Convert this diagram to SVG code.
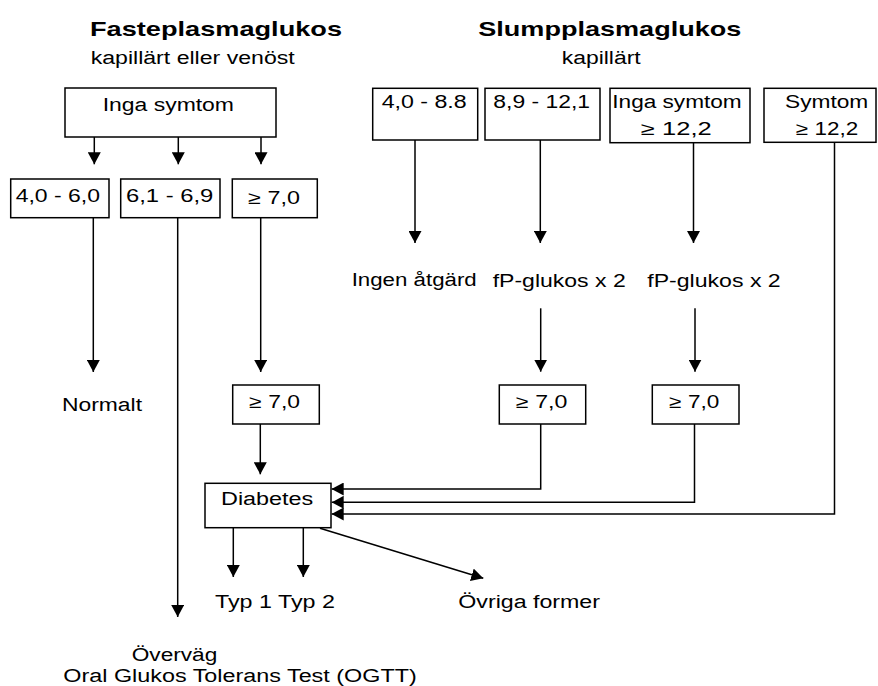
<svg xmlns="http://www.w3.org/2000/svg" width="878" height="686" viewBox="0 0 878 686">
<style>
.t{font-family:"Liberation Sans",Arial,sans-serif;font-size:18px;fill:#000}
.h{font-family:"Liberation Sans",Arial,sans-serif;font-size:21px;font-weight:bold;fill:#000}
.b{fill:#fff;stroke:#000;stroke-width:1.5}
.c{fill:none;stroke:#000;stroke-width:1.5;marker-end:url(#ah)}
</style>
<defs>
<marker id="ah" markerUnits="userSpaceOnUse" markerWidth="12" markerHeight="13" viewBox="0 0 12 13" refX="12" refY="6.5" orient="auto">
<path d="M0,0 L12,6.5 L0,13 z" fill="#000"/>
</marker>
</defs>
<rect width="878" height="686" fill="#fff"/>
<g id="headers">
<text class="h" x="90" y="35.5" textLength="252" lengthAdjust="spacingAndGlyphs">Fasteplasmaglukos</text>
<text class="t" x="90.7" y="64" textLength="204" lengthAdjust="spacingAndGlyphs">kapillärt eller venöst</text>
<text class="h" x="478.3" y="35.5" textLength="263" lengthAdjust="spacingAndGlyphs">Slumpplasmaglukos</text>
<text class="t" x="561.7" y="64" textLength="79" lengthAdjust="spacingAndGlyphs">kapillärt</text>
</g>
<g id="connectors">
<line class="c" x1="94.3" y1="137" x2="94.3" y2="164.3"/>
<line class="c" x1="178.3" y1="137" x2="178.3" y2="164.3"/>
<line class="c" x1="261" y1="137" x2="261" y2="164.3"/>
<line class="c" x1="93.3" y1="217.7" x2="93.3" y2="372"/>
<line class="c" x1="177.7" y1="217.7" x2="177.7" y2="617"/>
<line class="c" x1="260.7" y1="217.7" x2="260.7" y2="372"/>
<line class="c" x1="260.3" y1="424" x2="260.3" y2="474.3"/>
<line class="c" x1="415" y1="140" x2="415" y2="243"/>
<line class="c" x1="540.3" y1="140" x2="540.3" y2="243"/>
<line class="c" x1="693.5" y1="138" x2="693.5" y2="243"/>
<line class="c" x1="540.7" y1="308.3" x2="540.7" y2="371.7"/>
<line class="c" x1="695" y1="308.3" x2="695" y2="371.7"/>
<polyline class="c" points="540.7,424 540.7,489 331.7,489"/>
<polyline class="c" points="694.5,424 694.5,502.3 331.7,502.3"/>
<polyline class="c" points="834.5,138 834.5,514 331.7,514"/>
<line class="c" x1="233.3" y1="527.7" x2="233.3" y2="577"/>
<line class="c" x1="303.3" y1="527.7" x2="303.3" y2="577"/>
<line class="c" x1="320" y1="528.3" x2="483.3" y2="578.3"/>
</g>
<g id="n-inga-f"><rect class="b" x="65" y="88" width="211" height="49"/><text class="t" x="102.7" y="111" textLength="131.3" lengthAdjust="spacingAndGlyphs">Inga symtom</text></g>
<g id="n-40-60"><rect class="b" x="10.7" y="179" width="98.3" height="38.7"/><text class="t" x="15.7" y="201.7" textLength="84.3" lengthAdjust="spacingAndGlyphs">4,0 - 6,0</text></g>
<g id="n-61-69"><rect class="b" x="120.7" y="179" width="99.3" height="38.7"/><text class="t" x="126" y="201.7" textLength="87.3" lengthAdjust="spacingAndGlyphs">6,1 - 6,9</text></g>
<g id="n-70-a"><rect class="b" x="232.3" y="179" width="85" height="38.7"/><text class="t" x="248.3" y="203.5" textLength="51.7" lengthAdjust="spacingAndGlyphs">≥ 7,0</text></g>
<g id="n-70-b"><rect class="b" x="232.7" y="385" width="86.6" height="39"/><text class="t" x="249.3" y="408.3" textLength="50.7" lengthAdjust="spacingAndGlyphs">≥ 7,0</text></g>
<g id="n-normalt"><text class="t" x="62" y="411" textLength="80" lengthAdjust="spacingAndGlyphs">Normalt</text></g>
<g id="n-40-88"><rect class="b" x="372.7" y="88.3" width="105" height="51.7"/><text class="t" x="381.7" y="108.3" textLength="85" lengthAdjust="spacingAndGlyphs">4,0 - 8.8</text></g>
<g id="n-89-121"><rect class="b" x="485" y="88.3" width="115" height="51.7"/><text class="t" x="493.3" y="108.3" textLength="96.7" lengthAdjust="spacingAndGlyphs">8,9 - 12,1</text></g>
<g id="n-inga-s"><rect class="b" x="610" y="88.3" width="140" height="54.4"/><text class="t" x="612.3" y="108.3" textLength="129.4" lengthAdjust="spacingAndGlyphs">Inga symtom</text><text class="t" x="641" y="135" textLength="70.7" lengthAdjust="spacingAndGlyphs">≥ 12,2</text></g>
<g id="n-symtom"><rect class="b" x="764" y="88.3" width="112" height="54"/><text class="t" x="785" y="108.3" textLength="83.3" lengthAdjust="spacingAndGlyphs">Symtom</text><text class="t" x="796" y="135" textLength="62.3" lengthAdjust="spacingAndGlyphs">≥ 12,2</text></g>
<g id="n-ingen"><text class="t" x="351.7" y="286.3" textLength="125" lengthAdjust="spacingAndGlyphs">Ingen åtgärd</text></g>
<g id="n-fp1"><text class="t" x="492.7" y="286.7" textLength="133" lengthAdjust="spacingAndGlyphs">fP-glukos x 2</text></g>
<g id="n-fp2"><text class="t" x="647.3" y="286.7" textLength="133.4" lengthAdjust="spacingAndGlyphs">fP-glukos x 2</text></g>
<g id="n-70-c"><rect class="b" x="499.3" y="385" width="86.4" height="39"/><text class="t" x="516" y="408.3" textLength="51.3" lengthAdjust="spacingAndGlyphs">≥ 7,0</text></g>
<g id="n-70-d"><rect class="b" x="652.3" y="385" width="86.7" height="39"/><text class="t" x="669.3" y="408.3" textLength="50" lengthAdjust="spacingAndGlyphs">≥ 7,0</text></g>
<g id="n-diabetes"><rect class="b" x="205" y="483.3" width="126" height="44.4"/><text class="t" x="221" y="505" textLength="92.3" lengthAdjust="spacingAndGlyphs">Diabetes</text></g>
<g id="n-typ"><text class="t" x="215" y="608.3" textLength="120" lengthAdjust="spacingAndGlyphs">Typ 1 Typ 2</text></g>
<g id="n-ovriga"><text class="t" x="458.3" y="608.3" textLength="141.7" lengthAdjust="spacingAndGlyphs">Övriga former</text></g>
<g id="n-ogtt"><text class="t" x="131.7" y="661" textLength="85.6" lengthAdjust="spacingAndGlyphs">Överväg</text><text class="t" x="63.3" y="681.5" textLength="353.4" lengthAdjust="spacingAndGlyphs">Oral Glukos Tolerans Test (OGTT)</text></g>
</svg>
